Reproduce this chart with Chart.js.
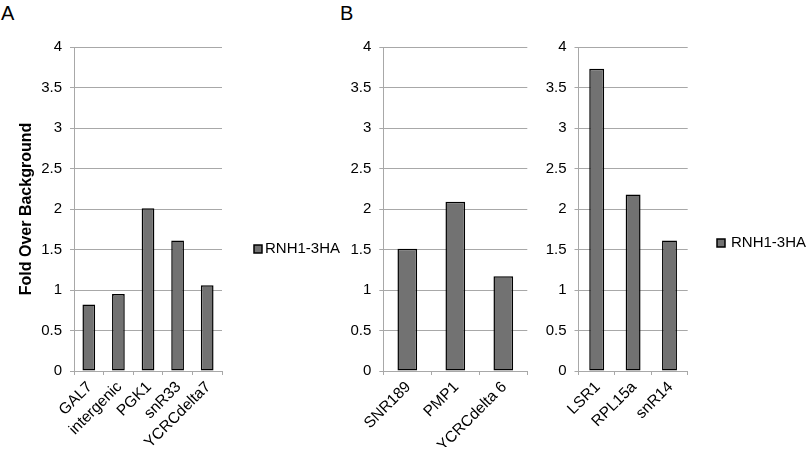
<!DOCTYPE html>
<html><head><meta charset="utf-8">
<script src="https://cdn.jsdelivr.net/npm/chart.js@4.4.1/dist/chart.umd.min.js"></script>
<style>
html,body{margin:0;padding:0;background:#fff;width:807px;height:455px;overflow:hidden;position:relative;font-family:"Liberation Sans",Arial,Helvetica,sans-serif}
.panel{position:absolute;top:0;height:455px}
.lbl{position:absolute;font-size:20px;line-height:20px;color:#000}
</style></head><body>
<div class="lbl" style="left:1px;top:3px">A</div>
<div class="lbl" style="left:340px;top:3px">B</div>
<div class="panel" style="left:0px;width:340px"><canvas id="cA"></canvas></div>
<div class="panel" style="left:340px;width:197px"><canvas id="cB1"></canvas></div>
<div class="panel" style="left:540px;width:266px"><canvas id="cB2"></canvas></div>
<script>
const seriesName = 'RNH1-3HA';
const yAxisTitle = 'Fold Over Background';
const categoriesA = ['GAL7', 'intergenic', 'PGK1', 'snR33', 'YCRCdelta7'];
const valuesA = [0.82, 0.95, 2.01, 1.61, 1.06];
const categoriesB1 = ['SNR189', 'PMP1', 'YCRCdelta 6'];
const valuesB1 = [1.51, 2.09, 1.17];
const categoriesB2 = ['LSR1', 'RPL15a', 'snR14'];
const valuesB2 = [3.73, 2.18, 1.61];
const yMin = 0, yMax = 4, yStep = 0.5;

const FONT = '"Liberation Sans", Arial, Helvetica, sans-serif';
const GRID = '#a8a8a8';

function makeChart(id, labels, values, c) {
  new Chart(document.getElementById(id), {
    type: 'bar',
    data: {
      labels: labels,
      datasets: [{
        label: seriesName,
        data: values,
        backgroundColor: '#727272',
        borderColor: '#000',
        borderWidth: 1.5,
        borderSkipped: false,
        barPercentage: c.barPct,
        categoryPercentage: 1.0
      }]
    },
    options: {
      responsive: true,
      maintainAspectRatio: false,
      animation: false,
      layout: { padding: { top: c.padTop, bottom: c.padBottom, left: 0, right: c.padRight } },
      plugins: {
        tooltip: { enabled: false },
        legend: {
          display: c.legend,
          position: 'right',
          align: 'center',
          maxWidth: c.legendMaxWidth,
          labels: {
            boxWidth: 8, boxHeight: 8, padding: c.legendPad,
            color: '#000', textAlign: 'right',
            font: { family: FONT, size: 15 }
          }
        }
      },
      scales: {
        x: {
          afterFit: s => { s.height = c.xHeight; },
          grid: { display: true, drawOnChartArea: false, drawTicks: true, tickLength: 4, color: GRID, offset: true },
          border: { display: true, color: GRID, width: 1 },
          ticks: { color: '#000', font: { family: FONT, size: 15.5 }, maxRotation: 45, minRotation: 45, autoSkip: false, padding: 3, labelOffset: 1 }
        },
        y: {
          min: yMin, max: yMax,
          afterFit: s => { s.width = c.yWidth; },
          grid: { color: GRID, lineWidth: 1, drawTicks: true, tickLength: 4 },
          border: { display: true, color: GRID, width: 1 },
          ticks: { stepSize: yStep, color: '#000', font: { family: FONT, size: 15 }, padding: 8, callback: v => String(v) },
          title: {
            display: c.title,
            text: yAxisTitle,
            color: '#000',
            font: { family: FONT, size: 16, weight: 'bold' },
            padding: { top: 17, bottom: 0 }
          }
        }
      }
    }
  });
}

makeChart('cA', categoriesA, valuesA, {
  yWidth: 74, xHeight: 80, padTop: 47, padBottom: 4, padRight: 0,
  legend: true, legendPad: 32, legendMaxWidth: 118, title: true, barPct: 0.43
});
makeChart('cB1', categoriesB1, valuesB1, {
  yWidth: 43.3, xHeight: 76, padTop: 47, padBottom: 8, padRight: 9.7,
  legend: false, legendPad: 10, legendMaxWidth: 100, title: false, barPct: 0.41
});
makeChart('cB2', categoriesB2, valuesB2, {
  yWidth: 38.5, xHeight: 68, padTop: 47, padBottom: 16, padRight: 0,
  legend: true, legendPad: 29.3, legendMaxWidth: 118.3, title: false, barPct: 0.41
});
</script>
</body></html>
